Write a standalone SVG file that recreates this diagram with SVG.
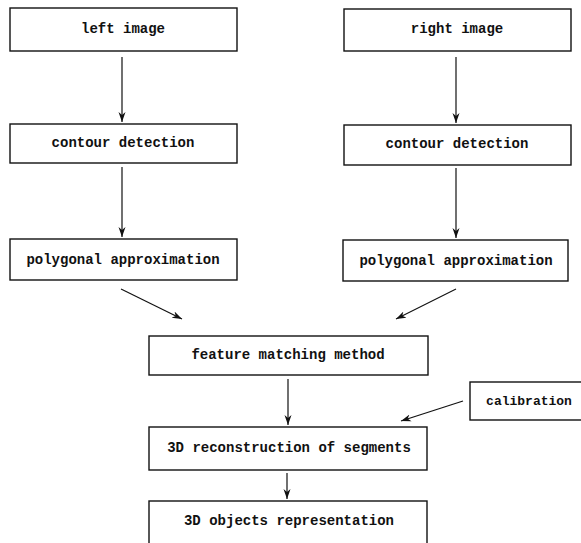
<svg xmlns="http://www.w3.org/2000/svg" width="581" height="543" viewBox="0 0 581 543">
<defs>
<marker id="ah" viewBox="0 0 10 10" refX="10" refY="5" markerWidth="10" markerHeight="10" markerUnits="userSpaceOnUse" orient="auto">
<path d="M0,1.5 L10,5 L0,8.5 L3,5 Z" fill="#111"/>
</marker>
<style>
.box{fill:#fff;stroke:#111;stroke-width:1.4}
.t{font-family:"Liberation Mono","DejaVu Sans Mono",monospace;font-weight:bold;font-size:14px;fill:#111;text-anchor:middle;dominant-baseline:central}
.c{stroke:#111;stroke-width:1.2;fill:none;marker-end:url(#ah)}
</style>
</defs>
<rect width="581" height="543" fill="#fff"/>
<g id="left-image"><rect class="box" x="10" y="8" width="227" height="43"/><text class="t" x="123" y="29">left image</text></g>
<g id="right-image"><rect class="box" x="344" y="9" width="227" height="42"/><text class="t" x="457" y="29">right image</text></g>
<g id="left-contour"><rect class="box" x="10" y="124" width="227" height="39"/><text class="t" x="123" y="143">contour detection</text></g>
<g id="right-contour"><rect class="box" x="344" y="125" width="227" height="40"/><text class="t" x="457" y="144">contour detection</text></g>
<g id="left-poly"><rect class="box" x="10" y="239" width="227" height="41"/><text class="t" x="123" y="260">polygonal approximation</text></g>
<g id="right-poly"><rect class="box" x="343" y="240" width="225" height="41"/><text class="t" x="456" y="261">polygonal approximation</text></g>
<g id="feature"><rect class="box" x="149" y="336" width="279" height="39"/><text class="t" x="288" y="355">feature matching method</text></g>
<g id="calibration"><rect class="box" x="470" y="382" width="125" height="38"/><text class="t" x="529" y="401" style="font-size:13px">calibration</text></g>
<g id="reconstruction"><rect class="box" x="149" y="427" width="278" height="43"/><text class="t" x="289" y="448">3D reconstruction of segments</text></g>
<g id="objects"><rect class="box" x="149" y="501" width="278" height="50"/><text class="t" x="289" y="521">3D objects representation</text></g>
<g id="connectors">
<line class="c" x1="122" y1="57" x2="122" y2="122"/>
<line class="c" x1="456" y1="57" x2="456" y2="123"/>
<line class="c" x1="122" y1="167" x2="122" y2="237"/>
<line class="c" x1="456" y1="168" x2="456" y2="238"/>
<line class="c" x1="121" y1="289" x2="182" y2="319"/>
<line class="c" x1="456" y1="289" x2="396" y2="319"/>
<line class="c" x1="288" y1="379" x2="288" y2="425"/>
<line class="c" x1="463" y1="401" x2="401" y2="421"/>
<line class="c" x1="287" y1="473" x2="287" y2="499"/>
</g>
</svg>
